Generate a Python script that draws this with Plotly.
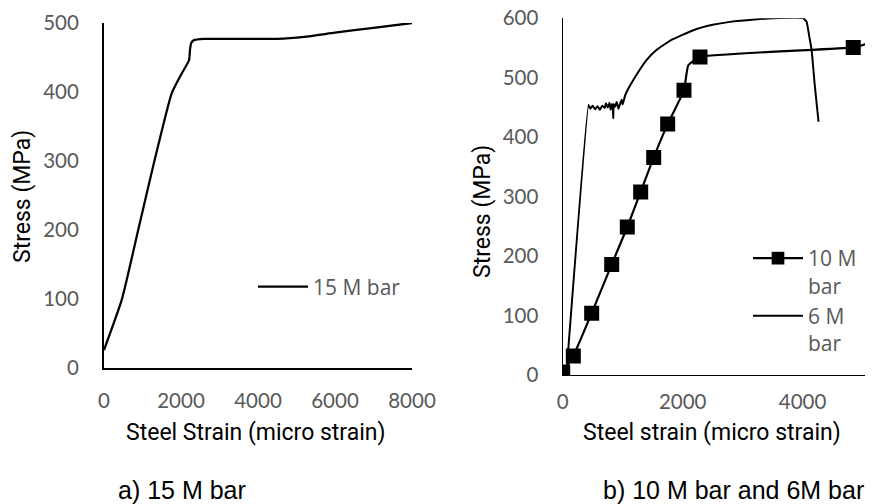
import plotly.graph_objects as go

# ---- data: (a) 15 M bar ----
strain_15m = [0, 462, 888, 1296, 1758, 2000, 2208, 2235, 2265, 2330, 2600, 3500, 4500, 5200, 6000, 7000, 8000]
stress_15m = [26, 99, 200, 297, 398, 425, 446, 462, 471, 475, 477, 477, 477, 480, 486, 493, 500]

# ---- data: (b) 10 M bar (markers at measured points) ----
strain_10m = [0, 177, 483, 817, 1077, 1300, 1517, 1750, 2022, 2094, 2289, 4844, 5070]
stress_10m = [5, 32, 104, 186, 249, 308, 366, 422, 479, 521, 535, 551, 557]
marked_10m = [True, True, True, True, True, True, True, True, True, False, True, True, False]

# ---- data: (b) 6 M bar ----
strain_6m = [60, 430, 460, 500, 540, 580, 620, 660, 700, 720, 750, 780, 800, 820, 835, 843, 850,
             870, 900, 930, 960, 985, 1000, 1040, 1080, 1200, 1400, 1567, 1800, 2178, 2500, 2789,
             3200, 3511, 4011, 4067, 4110, 4150, 4200, 4265]
stress_6m = [0, 454, 448, 453, 447, 452, 446, 453, 449, 457, 450, 458, 446, 456, 451, 432, 456,
             451, 459, 448, 457, 463, 455, 470, 479, 500, 530, 547, 563, 580, 589, 594,
             598, 600, 600, 594, 570, 547, 490, 426]

x_ticks_a = [0, 2000, 4000, 6000, 8000]
y_ticks_a = [0, 100, 200, 300, 400, 500]
x_ticks_b = [0, 2000, 4000]
y_ticks_b = [0, 100, 200, 300, 400, 500, 600]

W, H = 875, 504
TICK_FONT = dict(family="Lato", size=20.5, color="#595959")
TITLE_FONT = dict(family="Roboto", size=23, color="#000000")
LEG_FONT = dict(family="Open Sans", size=21, color="#595959")
CAP_FONT = dict(family="Liberation Sans, Arial", size=25, color="#000000")

marker_sizes = [15 if m else 0 for m in marked_10m]

fig = go.Figure()
fig.add_trace(go.Scatter(
    x=strain_15m, y=stress_15m, mode="lines", name="15 M bar",
    line=dict(color="black", width=2.25, shape="spline", smoothing=0.5),
    xaxis="x", yaxis="y", legend="legend"))
fig.add_trace(go.Scatter(
    x=strain_10m, y=stress_10m, mode="lines+markers", name="10 M<br>bar",
    line=dict(color="black", width=2.2, shape="spline", smoothing=0.4),
    marker=dict(symbol="square", size=marker_sizes, color="black",
                line=dict(width=0, color="black"), opacity=1),
    xaxis="x2", yaxis="y2", legend="legend2"))
fig.add_trace(go.Scatter(
    x=strain_6m, y=stress_6m, mode="lines", name="6 M<br>bar",
    line=dict(color="black", width=2, shape="spline", smoothing=0.3),
    xaxis="x2", yaxis="y2", legend="legend2"))

def px_x(p):
    return p / W

def px_y(p):
    return (H - p) / H

axis_common = dict(showgrid=False, zeroline=False, ticks="", showline=True, automargin=False,
                   linecolor="black", tickfont=TICK_FONT)

fig.update_layout(
    width=W, height=H, margin=dict(l=0, r=0, t=0, b=0, autoexpand=False),
    paper_bgcolor="white", plot_bgcolor="white",
    xaxis=dict(domain=[px_x(104), px_x(412)], range=[0, 8000], tickvals=x_ticks_a,
               anchor="y", linewidth=2, ticklabelstandoff=13, **axis_common),
    yaxis=dict(domain=[px_y(368), px_y(23)], range=[0, 500], tickvals=y_ticks_a,
               anchor="x", linewidth=2, ticklabelstandoff=19, **axis_common),
    xaxis2=dict(domain=[px_x(562.7), px_x(865)], range=[0, 5040], tickvals=x_ticks_b,
                anchor="y2", linewidth=1.4, ticklabelstandoff=8, **axis_common),
    yaxis2=dict(domain=[px_y(375), px_y(18.3)], range=[0, 600], tickvals=y_ticks_b,
                anchor="x2", linewidth=1.4, ticklabelstandoff=19, **axis_common),
    legend=dict(xref="container", yref="container", x=px_x(253), y=px_y(287),
                xanchor="left", yanchor="middle", bgcolor="rgba(0,0,0,0)",
                font=LEG_FONT, itemwidth=50),
    legend2=dict(xref="container", yref="container", x=px_x(748), y=px_y(238),
                 xanchor="left", yanchor="top", valign="top",
                 bgcolor="rgba(0,0,0,0)", tracegroupgap=0, font=LEG_FONT, itemwidth=50),
    showlegend=True,
)

annotations = [
    dict(text="Stress (MPa)", x=px_x(22), y=px_y(197), textangle=-90, font=TITLE_FONT),
    dict(text="Stress (MPa)", x=px_x(483), y=px_y(212), textangle=-90, font=TITLE_FONT),
    dict(text="Steel Strain (micro strain)", x=px_x(256), y=px_y(432), font=TITLE_FONT),
    dict(text="Steel strain (micro strain)", x=px_x(712), y=px_y(432), font=TITLE_FONT),
    dict(text="a) 15 M bar", x=px_x(182), y=px_y(490), font=CAP_FONT),
    dict(text="b) 10 M bar and 6M bar", x=px_x(733), y=px_y(490), font=CAP_FONT),
]
for a in annotations:
    a.update(xref="paper", yref="paper", xanchor="center", yanchor="middle", showarrow=False)
fig.update_layout(annotations=annotations)

fig.write_html("out.html")
